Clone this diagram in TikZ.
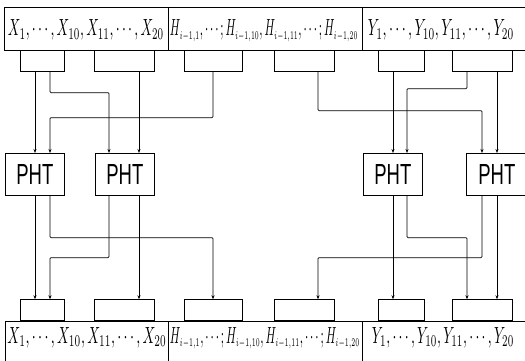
\documentclass[tikz,border=0pt]{standalone}
\usepackage{graphicx}
\usepackage{fontspec}
\setsansfont{Liberation Sans}
\usetikzlibrary{arrows.meta}
\newcommand{\fitw}[2]{\resizebox{#1pt}{16pt}{$#2$}}
\newcommand{\hs}[1]{H_{\scriptscriptstyle #1}}

\begin{document}
\begin{tikzpicture}[x=1pt,y=-1pt,line width=0.7pt,
   sbox/.style={draw,minimum height=21pt,inner sep=0pt,anchor=north west},
   pht/.style={draw,minimum height=42pt,inner sep=0pt,anchor=north west},
   lbl/.style={inner sep=0pt,anchor=base},
   wire/.style={-{Stealth[length=4pt,width=3pt]},rounded corners=1pt}]
   \useasboundingbox (0,0) rectangle (525,361);
   \clip (0,0) rectangle (525,361);
   \draw (4,7) rectangle (540,50);
   \draw (168,7) -- (168,50);
   \draw (362,7) -- (362,50);
   \draw (5,321) rectangle (540,375);
   \draw (168,321) -- (168,375);
   \draw (362,321) -- (362,375);
   \node[lbl] (tx) at (86,36) {\fitw{156}{X_1,\cdots,X_{10},X_{11},\cdots,X_{20}}};
   \node[lbl] (th) at (264,36) {\fitw{188}{\hs{i-1,1},\cdots;\hs{i-1,10},\hs{i-1,11},\cdots;\hs{i-1,20}}};
   \node[lbl] (ty) at (441,36) {\fitw{146}{Y_1,\cdots,Y_{10},Y_{11},\cdots,Y_{20}}};
   \node[lbl] (bx) at (87,343) {\fitw{159}{X_1,\cdots,X_{10},X_{11},\cdots,X_{20}}};
   \node[lbl] (bh) at (265,343) {\fitw{190}{\hs{i-1,1},\cdots;\hs{i-1,10},\hs{i-1,11},\cdots;\hs{i-1,20}}};
   \node[lbl] (by) at (443,343) {\fitw{142}{Y_1,\cdots,Y_{10},Y_{11},\cdots,Y_{20}}};
   \foreach \n/\a/\b in {1/20/64,2/94/154,3/184/242,4/274/334,5/378/424,6/452/512}{
     \node[sbox,minimum width=\b-\a] (tb\n) at (\a,50) {};
     \node[sbox,anchor=south west,minimum width=\b-\a] (bb\n) at (\a,321) {};
   }
   \node[pht,minimum width=59] (p1) at (5,153) {\resizebox{37pt}{20pt}{\sffamily PHT}};
   \node[pht,minimum width=59] (p2) at (95,153) {\resizebox{37pt}{20pt}{\sffamily PHT}};
   \node[pht,minimum width=59] (p3) at (363,153) {\resizebox{37pt}{20pt}{\sffamily PHT}};
   \node[pht,minimum width=61] (p4) at (466,153) {\resizebox{37pt}{20pt}{\sffamily PHT}};
   \foreach \x in {35,50,109,139,213,318,393,407,467,482,497}
     \coordinate (x\x) at (\x,0);
   % into the PHT boxes
   \draw[wire] (tb1.south -| x35) -- (p1.north -| x35);
   \draw[wire] (tb1.south -| x50) -- ++(0,21) -| (p2.north -| x109);
   \draw[wire] (tb3.south -| x213) -- ++(0,46) -| (p1.north -| x50);
   \draw[wire] (tb2.south -| x139) -- (p2.north -| x139);
   \draw[wire] (tb4.south -| x318) -- ++(0,39) -| (p4.north -| x482);
   \draw[wire] (tb5.south -| x393) -- (p3.north -| x393);
   \draw[wire] (tb6.south -| x467) -- ++(0,17) -| (p3.north -| x407);
   \draw[wire] (tb6.south -| x497) -- (p4.north -| x497);
   % out of the PHT boxes
   \draw[wire] (p1.south -| x35) -- (bb1.north -| x35);
   \draw[wire] (p1.south -| x50) -- ++(0,42) -| (bb3.north -| x213);
   \draw[wire] (p2.south -| x109) -- ++(0,62) -| (bb1.north -| x50);
   \draw[wire] (p2.south -| x139) -- (bb2.north -| x139);
   \draw[wire] (p3.south -| x393) -- (bb5.north -| x393);
   \draw[wire] (p3.south -| x407) -- ++(0,42) -| (bb6.north -| x467);
   \draw[wire] (p4.south -| x482) -- ++(0,62) -| (bb4.north -| x318);
   \draw[wire] (p4.south -| x497) -- (bb6.north -| x497);
\end{tikzpicture}
\end{document}
